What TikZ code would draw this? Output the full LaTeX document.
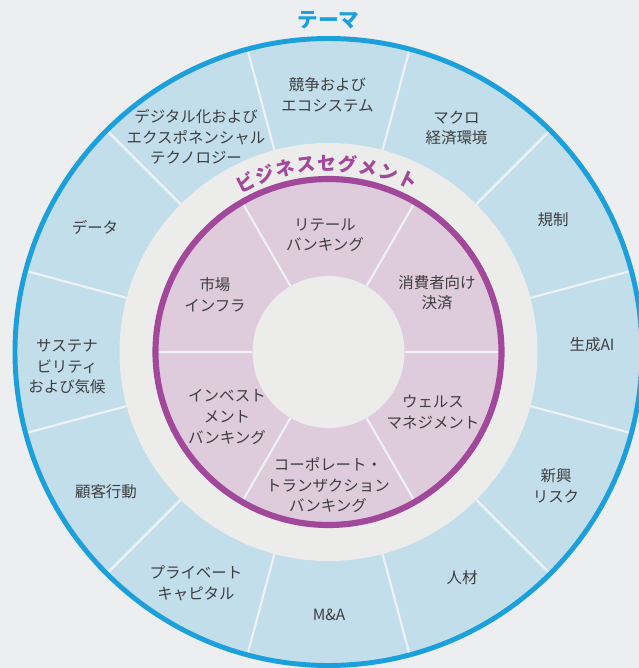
\documentclass[tikz,border=0pt]{standalone}
\usepackage{fontspec}
\setmainfont{Noto Sans CJK JP}
\definecolor{bg}{RGB}{236,238,240}
\definecolor{bandblue}{RGB}{194,222,235}
\definecolor{ringgray}{RGB}{236,236,234}
\definecolor{purplefill}{RGB}{222,203,220}
\definecolor{purpleline}{RGB}{161,72,155}
\definecolor{blueline}{RGB}{28,160,220}
\definecolor{divider}{RGB}{238,242,244}
\definecolor{txt}{RGB}{62,62,62}
\tikzset{
  lbl/.style={align=center, text=txt, font=\fontsize{11.6}{15.4}\selectfont, inner sep=0pt},
  divline/.style={draw=divider, line width=1.6pt},
  segtitle/.style={text=purpleline, font=\fontsize{14.2}{16}\selectfont\bfseries, inner sep=0pt},
}
\begin{document}
\begin{tikzpicture}[x=0.75pt,y=0.75pt]
\useasboundingbox (-328.5,-316) rectangle (310.5,352);
\clip (-328.5,-316) rectangle (310.5,352);
\fill[bg] (-328.5,-316) rectangle (310.5,352);
% outer band
\fill[bandblue] (0,0) circle (312);
\foreach \a in {15,45,...,345} \draw[divline] (\a:209) -- (\a:312);
\fill[ringgray] (0,0) circle (209);
% inner segments
\fill[purplefill] (0,0) circle (173);
\foreach \a in {0,60,...,300} \draw[divline] (\a:76) -- (\a:172);
\fill[ringgray] (0,0) circle (76);
\draw[purpleline, line width=4.6pt] (0,0) circle (173);
\draw[blueline, line width=3.7pt] (0,0) circle (313.5);
% title
\node[text=blueline, font=\fontsize{15.5}{16}\selectfont\bfseries, inner sep=0pt] (title) at (0,332) {テーマ};
% segment title on arc
\foreach \ch [count=\i from 0] in {ビ,ジ,ネ,ス,セ,グ,メ,ン,ト} {
  \pgfmathsetmacro{\ang}{116-\i*6.35}
  \node[segtitle, rotate=\ang-90] (seg\i) at (\ang:189) {\ch};
}
% themes
\node[lbl] (th1) at (-1,257) {競争および\\エコシステム};
\node[lbl] (th2) at (128,224) {マクロ\\経済環境};
\node[lbl] (th3) at (224.5,132) {規制};
\node[lbl] (th4) at (263.5,7) {生成AI};
\node[lbl] (th5) at (227.5,-134) {新興\\リスク};
\node[lbl] (th6) at (133.5,-226) {人材};
\node[lbl] (th7) at (0.5,-263) {M\&A};
\node[lbl] (th8) at (-132.5,-231) {プライベート\\キャピタル};
\node[lbl] (th9) at (-222.5,-140) {顧客行動};
\node[lbl] (th10) at (-261.5,-15) {サステナ\\ビリティ\\および気候};
\node[lbl] (th11) at (-233.5,125) {データ};
\node[lbl] (th12) at (-132.5,215) {デジタル化および\\エクスポネンシャル\\テクノロジー};
% segments
\node[lbl] (bs1) at (-3.5,117) {リテール\\バンキング};
\node[lbl] (bs2) at (108.5,59.5) {消費者向け\\決済};
\node[lbl] (bs3) at (104.5,-60) {ウェルス\\マネジメント};
\node[lbl] (bs4) at (-0.5,-133) {コーポレート・\\トランザクション\\バンキング};
\node[lbl] (bs5) at (-101.5,-65) {インベスト\\メント\\バンキング};
\node[lbl] (bs6) at (-113.5,57) {市場\\インフラ};
\end{tikzpicture}
\end{document}
